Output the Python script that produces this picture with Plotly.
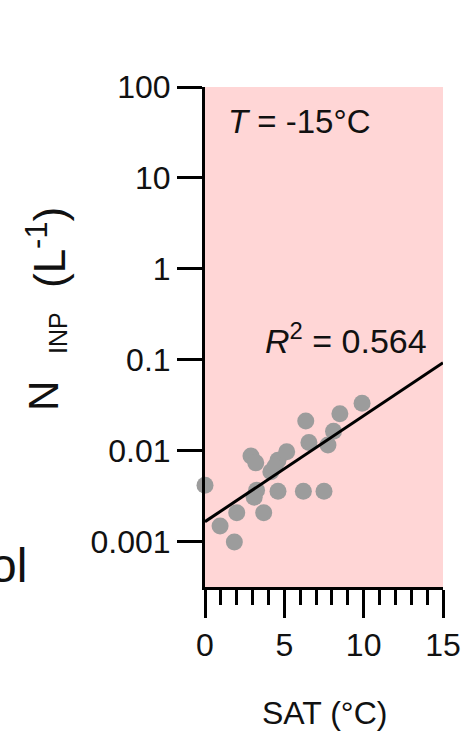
import plotly.graph_objects as go

# data
sat_x = [0.0, 0.95, 1.85, 2.0, 2.9, 3.2, 3.25, 3.1, 3.7, 4.15, 4.6, 4.6, 5.15, 4.4,
         6.35, 6.55, 6.2, 7.5, 7.75, 8.1, 8.5, 9.9]
ninp_y = [0.0042, 0.0015, 0.0010, 0.0021, 0.0088, 0.0074, 0.0037, 0.0031, 0.0021, 0.0059,
          0.0036, 0.0079, 0.0098, 0.0067, 0.0214, 0.0124, 0.0036, 0.0036, 0.0116, 0.0165,
          0.0256, 0.0335]
fit_log_intercept = -2.777
fit_log_slope = 0.1165
fit_x = [0, 15]
fit_y = [10 ** (fit_log_intercept + fit_log_slope * v) for v in fit_x]

y_tickvals = [0.001, 0.01, 0.1, 1, 10, 100]
y_ticktext = ["0.001", "0.01", "0.1", "1", "10", "100"]
x_tickvals = [0, 5, 10, 15]
x_ticktext = ["0", "5", "10", "15"]

FONT = "Liberation Sans, Arial, sans-serif"
L, R, T, B = 205, 21, 87, 146
PW, PH = 464 - L - R, 733 - T - B


def px(xp):
    return (xp - L) / PW


def py(yp):
    return (733 - B - yp) / PH


fig = go.Figure()
fig.add_trace(go.Scatter(x=sat_x, y=ninp_y, mode="markers",
                         marker=dict(size=17, color="#9c9c9c", line=dict(width=0)),
                         showlegend=False, cliponaxis=False))
fig.add_trace(go.Scatter(x=fit_x, y=fit_y, mode="lines",
                         line=dict(color="black", width=3), showlegend=False))

fig.update_layout(
    width=464, height=733,
    margin=dict(l=L, r=R, t=T, b=B, autoexpand=False),
    paper_bgcolor="white", plot_bgcolor="#ffd6d6",
    font=dict(family=FONT, size=32, color="#111111"),
    xaxis=dict(range=[0, 15], showgrid=False, zeroline=False, automargin=False,
               showline=True, linecolor="black", linewidth=3,
               ticks="outside", ticklen=28, tickwidth=3, tickcolor="black",
               tickvals=x_tickvals, ticktext=x_ticktext,
               tickfont=dict(size=32),
               minor=dict(dtick=1, ticks="outside", ticklen=15, tickwidth=3,
                          tickcolor="black", showgrid=False)),
    yaxis=dict(type="log", range=[-3.495, 2], showgrid=False, zeroline=False,
               automargin=False,
               showline=True, linecolor="black", linewidth=3,
               ticks="outside", ticklen=25, tickwidth=3, tickcolor="black",
               tickvals=y_tickvals, ticktext=y_ticktext,
               tickfont=dict(size=32)),
)

fig.add_annotation(xref="paper", yref="paper", x=px(226), y=py(122),
                   xanchor="left", yanchor="middle", showarrow=False,
                   text="<i>T</i> = -15°C", font=dict(size=33))
fig.add_annotation(xref="paper", yref="paper", x=px(429), y=py(338),
                   xanchor="right", yanchor="middle", showarrow=False,
                   text="<i>R</i><sup>2</sup> = 0.564", font=dict(size=34))
# y-axis title: N_INP (L^-1), rotated
fig.add_annotation(xref="paper", yref="paper", x=px(43), y=py(396),
                   xanchor="center", yanchor="middle", showarrow=False, textangle=-90,
                   text="N", font=dict(size=42))
fig.add_annotation(xref="paper", yref="paper", x=px(58), y=py(333),
                   xanchor="center", yanchor="middle", showarrow=False, textangle=-90,
                   text="INP", font=dict(size=25))
fig.add_annotation(xref="paper", yref="paper", x=px(47), y=py(248),
                   xanchor="center", yanchor="middle", showarrow=False, textangle=-90,
                   text="(L<sup>-1</sup>)", font=dict(size=44))
fig.add_annotation(xref="paper", yref="paper", x=px(324), y=py(713),
                   xanchor="center", yanchor="middle", showarrow=False,
                   text="SAT (°C)", font=dict(size=32))
fig.add_annotation(xref="paper", yref="paper", x=px(29), y=py(565),
                   xanchor="right", yanchor="middle", showarrow=False,
                   text="ol", font=dict(size=48))

fig.write_html("out.html", config={"displayModeBar": False},
               post_script="document.body.style.margin='0px';document.body.style.padding='0px';")
